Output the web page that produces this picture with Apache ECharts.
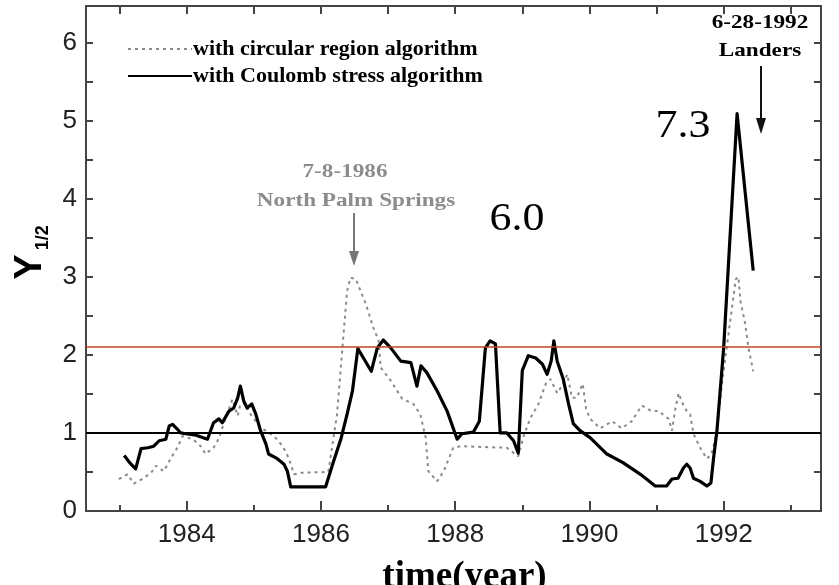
<!DOCTYPE html>
<html>
<head>
<meta charset="utf-8">
<script src="https://cdn.jsdelivr.net/npm/echarts@6/dist/echarts.min.js"></script>
<style>html,body{margin:0;padding:0;background:#fff}#c{width:839px;height:585px}</style>
</head>
<body>
<div id="c"></div>
<script>
// ---- data ----
const coulombYears = [1983.07,1983.15,1983.24,1983.32,1983.42,1983.51,1983.59,1983.69,1983.74,1983.79,1983.86,1983.91,1983.99,1984.14,1984.31,1984.40,1984.48,1984.53,1984.63,1984.70,1984.76,1984.80,1984.85,1984.90,1984.97,1985.03,1985.10,1985.18,1985.22,1985.35,1985.45,1985.50,1985.55,1986.07,1986.19,1986.30,1986.39,1986.47,1986.55,1986.64,1986.75,1986.84,1986.93,1987.04,1987.19,1987.34,1987.43,1987.49,1987.58,1987.73,1987.88,1988.03,1988.10,1988.27,1988.36,1988.45,1988.52,1988.60,1988.67,1988.77,1988.87,1988.94,1989.00,1989.09,1989.20,1989.30,1989.37,1989.43,1989.47,1989.52,1989.61,1989.69,1989.76,1989.86,1990.01,1990.26,1990.50,1990.76,1990.98,1991.15,1991.23,1991.32,1991.40,1991.45,1991.50,1991.55,1991.65,1991.75,1991.81,1991.85,1991.90,1992.00,1992.20,1992.44];
const coulombValues = [0.71,0.62,0.54,0.80,0.81,0.83,0.90,0.92,1.09,1.11,1.05,1.00,0.99,0.97,0.92,1.13,1.18,1.13,1.28,1.32,1.45,1.60,1.41,1.32,1.37,1.24,1.03,0.86,0.73,0.67,0.60,0.51,0.31,0.31,0.64,0.93,1.24,1.54,2.08,1.95,1.79,2.09,2.19,2.09,1.92,1.90,1.60,1.86,1.77,1.54,1.28,0.92,0.99,1.01,1.15,2.09,2.18,2.14,1.00,1.00,0.90,0.74,1.80,1.99,1.96,1.88,1.75,1.92,2.18,1.92,1.69,1.37,1.12,1.03,0.94,0.73,0.62,0.47,0.32,0.32,0.41,0.42,0.55,0.60,0.55,0.42,0.38,0.32,0.36,0.68,1.03,2.09,5.09,3.08];
const circularYears = [1982.99,1983.12,1983.21,1983.34,1983.47,1983.54,1983.66,1983.76,1983.86,1983.94,1984.09,1984.21,1984.28,1984.40,1984.48,1984.58,1984.68,1984.76,1984.80,1984.88,1984.95,1985.10,1985.30,1985.43,1985.52,1985.60,1985.70,1986.11,1986.24,1986.32,1986.39,1986.44,1986.52,1986.67,1986.78,1986.86,1986.89,1987.04,1987.21,1987.38,1987.48,1987.56,1987.60,1987.73,1987.83,1987.97,1988.08,1988.77,1988.94,1989.02,1989.12,1989.24,1989.35,1989.42,1989.52,1989.61,1989.67,1989.74,1989.81,1989.90,1989.95,1990.01,1990.16,1990.34,1990.48,1990.63,1990.78,1990.93,1991.03,1991.18,1991.23,1991.28,1991.33,1991.38,1991.45,1991.50,1991.55,1991.65,1991.75,1991.82,1991.90,1991.98,1992.18,1992.22,1992.25,1992.32,1992.37,1992.44];
const circularValues = [0.41,0.47,0.35,0.41,0.49,0.58,0.51,0.67,0.81,0.96,0.92,0.83,0.73,0.81,0.93,1.19,1.43,1.22,1.37,1.38,1.24,1.07,0.96,0.83,0.68,0.47,0.49,0.50,1.24,2.09,2.82,2.99,2.97,2.65,2.35,2.18,1.84,1.67,1.44,1.37,1.24,0.94,0.51,0.38,0.51,0.81,0.83,0.81,0.70,0.96,1.19,1.37,1.63,1.69,1.51,1.63,1.75,1.45,1.45,1.63,1.31,1.18,1.06,1.15,1.06,1.15,1.35,1.28,1.28,1.18,1.03,1.31,1.51,1.39,1.28,1.24,0.99,0.81,0.67,0.73,1.03,1.67,2.97,3.00,2.69,2.40,2.09,1.79];
const thresholdValues = [1, 2.11];
const xTickValues = [1983,1984,1985,1986,1987,1988,1989,1990,1991,1992,1993];
const xMajorTicks = [1984,1986,1988,1990,1992];
const xMinorTicks = [1983,1985,1987,1989,1991,1993];
const xLabelValues = [1984,1986,1988,1990,1992];
const yTickValues = [0,0.5,1,1.5,2,2.5,3,3.5,4,4.5,5,5.5,6];
const yLabelValues = [0,1,2,3,4,5,6];
const seriesNames = ['with circular region algorithm', 'with Coulomb stress algorithm'];
const annotations = {
  nps: ['7-8-1986', 'North Palm Springs'],
  landers: ['6-28-1992', 'Landers'],
  mag1: '6.0',
  mag2: '7.3'
};

const pairs = (xs, ys) => xs.map((x, i) => [x, ys[i]]);

const chart = echarts.init(document.getElementById('c'), null, {renderer: 'canvas'});
const AX = '#444';
const SERIF = '"Liberation Serif","Times New Roman",serif';
const SANS = '"Liberation Sans",Arial,sans-serif';

const option = {
  animation: false,
  backgroundColor: '#fff',
  grid: {left: 86, right: 18, top: 6, bottom: 74, containLabel: false, outerBoundsMode: 'none'},
  legend: {
    orient: 'vertical', left: 122, top: 33, itemWidth: 64, itemHeight: 12, itemGap: 5,
    data: seriesNames,
    itemStyle: {opacity: 0},
    textStyle: {fontFamily: SERIF, fontWeight: 'bold', fontSize: 22, color: '#000', padding: [0,0,0,-4]}
  },
  xAxis: [
    {type: 'value', min: 1982.5, max: 1993.45, position: 'bottom',
     name: 'time(year)', nameLocation: 'middle', nameGap: 48,
     nameTextStyle: {fontFamily: SERIF, fontWeight: 'bold', fontSize: 37, color: '#000', padding: [0,0,0,22]},
     axisLine: {show: true, lineStyle: {color: AX, width: 2}},
     axisTick: {show: true, inside: true, length: 10, customValues: xMajorTicks, lineStyle: {color: AX, width: 2}},
     axisLabel: {customValues: xLabelValues, margin: 11, fontFamily: SANS, fontSize: 26, color: '#222', formatter: v => String(v)},
     splitLine: {show: false}},
    {type: 'value', min: 1982.5, max: 1993.45, position: 'bottom',
     axisLine: {show: false},
     axisTick: {show: true, inside: true, length: 6, customValues: xMinorTicks, lineStyle: {color: AX, width: 2}},
     axisLabel: {show: false}, splitLine: {show: false}},
    {type: 'value', min: 1982.5, max: 1993.45, position: 'top',
     axisLine: {show: true, lineStyle: {color: AX, width: 2}},
     axisTick: {show: true, inside: true, length: 8, customValues: xTickValues, lineStyle: {color: AX, width: 2}},
     axisLabel: {show: false}, splitLine: {show: false}}
  ],
  yAxis: [
    {type: 'value', min: 0, max: 6.47, position: 'left',
     name: '{y|Y}{s|1/2}', nameLocation: 'middle', nameRotate: 90, nameGap: 28,
     nameTextStyle: {padding: [0,0,0,12], rich: {
       y: {fontFamily: SANS, fontWeight: 'bold', fontSize: 38, color: '#000'},
       s: {fontFamily: SANS, fontWeight: 'bold', fontSize: 18, color: '#000', verticalAlign: 'bottom', padding: [0,0,-2,4]}
     }},
     axisLine: {show: true, lineStyle: {color: AX, width: 2}},
     axisTick: {show: true, inside: true, length: 7, customValues: yTickValues, lineStyle: {color: AX, width: 2}},
     axisLabel: {customValues: yLabelValues, margin: 9, fontFamily: SANS, fontSize: 26, color: '#222'},
     splitLine: {show: false}},
    {type: 'value', min: 0, max: 6.47, position: 'right',
     axisLine: {show: true, lineStyle: {color: AX, width: 2}},
     axisTick: {show: true, inside: true, length: 7, customValues: yTickValues, lineStyle: {color: AX, width: 2}},
     axisLabel: {show: false}, splitLine: {show: false}}
  ],
  series: [
    {name: seriesNames[0], type: 'line', xAxisIndex: 0, yAxisIndex: 0,
     data: pairs(circularYears, circularValues), symbol: 'none', showSymbol: false,
     lineStyle: {color: '#8a8a8a', width: 2, type: [3, 4]}, itemStyle: {color: '#8a8a8a'}, z: 3},
    {name: seriesNames[1], type: 'line', xAxisIndex: 0, yAxisIndex: 0,
     data: pairs(coulombYears, coulombValues), symbol: 'none', showSymbol: false,
     lineStyle: {color: '#000', width: 3.2, join: 'round'}, itemStyle: {color: '#000'}, z: 4,
     markLine: {silent: true, symbol: ['none', 'none'], label: {show: false},
       data: [
         {yAxis: thresholdValues[0], lineStyle: {color: '#000', width: 2, type: 'solid'}},
         {yAxis: thresholdValues[1], lineStyle: {color: '#c4441c', width: 1.5, type: 'solid'}}
       ]}}
  ],
  graphic: [
    {type: 'text', x: 345, y: 172, scaleX: 1.22, style: {text: annotations.nps[0], x: 0, y: 0, align: 'center', verticalAlign: 'middle', font: 'bold 19px ' + SERIF, fill: '#8c8c8c'}},
    {type: 'text', x: 356, y: 201, scaleX: 1.22, style: {text: annotations.nps[1], x: 0, y: 0, align: 'center', verticalAlign: 'middle', font: 'bold 19px ' + SERIF, fill: '#8c8c8c'}},
    {type: 'line', shape: {x1: 354, y1: 213, x2: 354, y2: 258}, style: {stroke: '#777', lineWidth: 2}},
    {type: 'polygon', shape: {points: [[349, 251], [359, 251], [354, 266]]}, style: {fill: '#777'}},
    {type: 'text', x: 760, y: 23, scaleX: 1.22, style: {text: annotations.landers[0], x: 0, y: 0, align: 'center', verticalAlign: 'middle', font: 'bold 19px ' + SERIF, fill: '#000'}},
    {type: 'text', x: 760, y: 51, scaleX: 1.22, style: {text: annotations.landers[1], x: 0, y: 0, align: 'center', verticalAlign: 'middle', font: 'bold 19px ' + SERIF, fill: '#000'}},
    {type: 'line', shape: {x1: 761, y1: 66, x2: 761, y2: 124}, style: {stroke: '#111', lineWidth: 2}},
    {type: 'polygon', shape: {points: [[756, 118], [766, 118], [761, 134]]}, style: {fill: '#111'}},
    {type: 'text', x: 683, y: 126, scaleX: 1.1, style: {text: annotations.mag2, x: 0, y: 0, align: 'center', verticalAlign: 'middle', font: '40px ' + SERIF, fill: '#000'}},
    {type: 'text', x: 517, y: 219, scaleX: 1.1, style: {text: annotations.mag1, x: 0, y: 0, align: 'center', verticalAlign: 'middle', font: '40px ' + SERIF, fill: '#000'}}
  ]
};
chart.setOption(option);
</script>
</body>
</html>
